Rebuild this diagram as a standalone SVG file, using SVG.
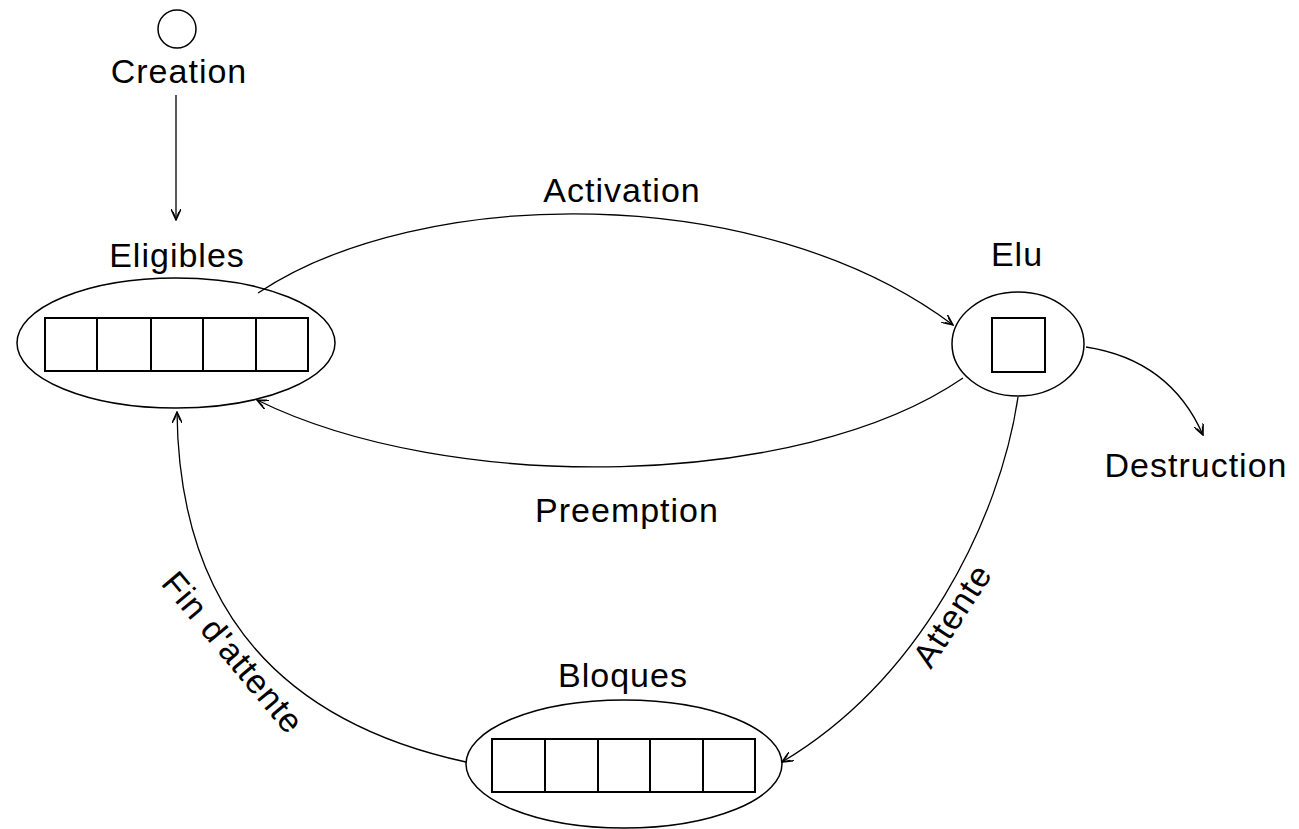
<svg xmlns="http://www.w3.org/2000/svg" width="1299" height="829" viewBox="0 0 1299 829">
<style>
.shape{fill:none;stroke:#000;stroke-width:1.5}
.cell{fill:none;stroke:#000;stroke-width:2}
.edge{fill:none;stroke:#000;stroke-width:1.3}
.lbl{font-family:"Liberation Sans",Arial,sans-serif;font-size:34px;fill:#000;text-anchor:middle;letter-spacing:1px}
</style>
<defs>
<marker id="arr" viewBox="0 0 12 10" refX="11" refY="5" markerWidth="12" markerHeight="10" markerUnits="userSpaceOnUse" orient="auto">
<path d="M0,0 L11,5 L0,10 M3,2 L11,5 L3,8" fill="none" stroke="#000" stroke-width="1.5"/>
</marker>
</defs>
<rect width="1299" height="829" fill="#fff"/>
<g id="creation">
<circle class="shape" cx="177" cy="29" r="19"/>
<text class="lbl" x="179" y="83">Creation</text>
</g>
<g id="eligibles">
<text class="lbl" x="177" y="267">Eligibles</text>
<ellipse class="shape" cx="176" cy="343" rx="159" ry="65"/>
<rect class="cell" x="45" y="318" width="263" height="53"/>
<path class="cell" d="M97,318V371M151,318V371M203,318V371M256,318V371"/>
</g>
<g id="elu">
<text class="lbl" x="1017" y="266">Elu</text>
<ellipse class="shape" cx="1018" cy="344" rx="66" ry="52"/>
<rect class="cell" x="992" y="318" width="53" height="54"/>
</g>
<g id="bloques">
<text class="lbl" x="623" y="687">Bloques</text>
<ellipse class="shape" cx="624" cy="764" rx="158" ry="64"/>
<rect class="cell" x="492" y="739" width="263" height="53"/>
<path class="cell" d="M545,739V792M598,739V792M650,739V792M703,739V792"/>
</g>
<g id="destruction">
<text class="lbl" x="1196" y="477">Destruction</text>
</g>
<g id="connectors">
<path class="edge" d="M176,95 V220" marker-end="url(#arr)"/>
<path class="edge" d="M258,293 C420,185 760,180 953,325" marker-end="url(#arr)"/>
<path class="edge" d="M963,378 C800,490 450,495 257,400" marker-end="url(#arr)"/>
<path class="edge" d="M1086,347 Q1170,360 1203,435" marker-end="url(#arr)"/>
<path class="edge" d="M1018,397 C1000,520 920,680 782,762" marker-end="url(#arr)"/>
<path class="edge" d="M466,762 Q180,700 177,412" marker-end="url(#arr)"/>
<text class="lbl" x="622" y="202">Activation</text>
<text class="lbl" x="627" y="522">Preemption</text>
<text class="lbl" transform="translate(962,622) rotate(-57)">Attente</text>
<text class="lbl" transform="translate(224,660) rotate(50)">Fin d'attente</text>
</g>
</svg>
